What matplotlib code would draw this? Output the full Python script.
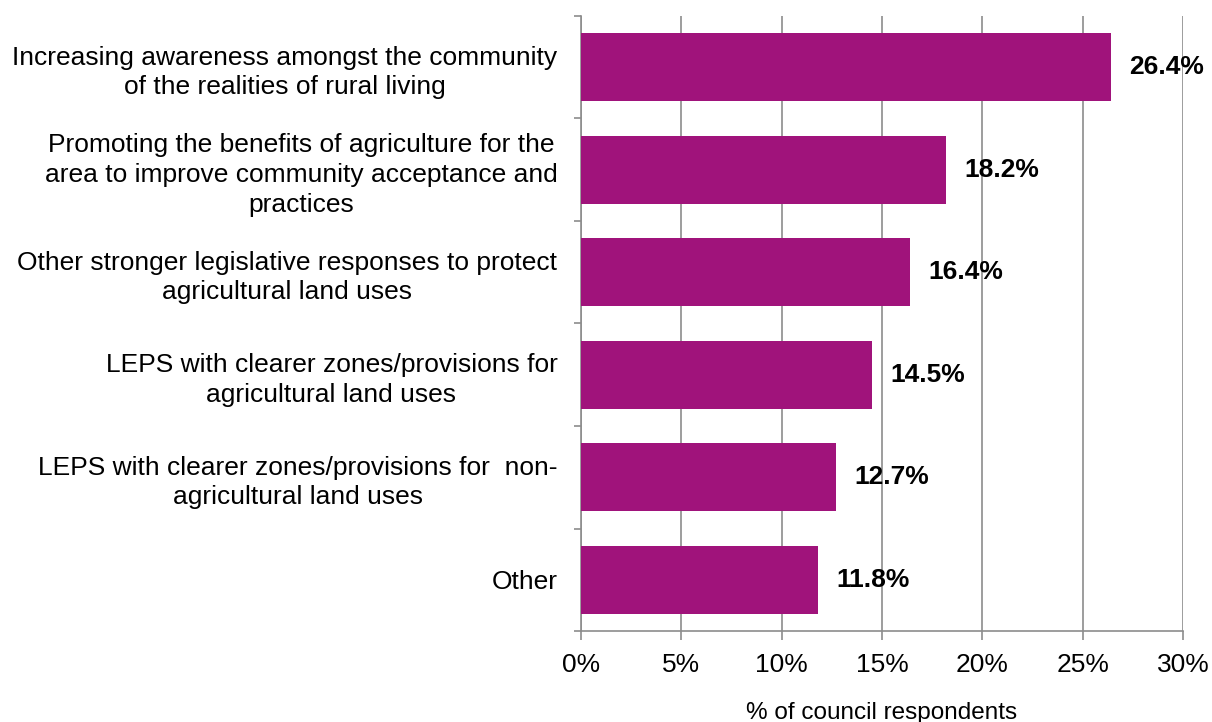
import matplotlib
matplotlib.use("Agg")

import matplotlib.pyplot as plt
import numpy as np

categories = [
    "Increasing awareness amongst the community\nof the realities of rural living",
    "Promoting the benefits of agriculture for the\narea to improve community acceptance and\npractices",
    "Other stronger legislative responses to protect\nagricultural land uses",
    "LEPS with clearer zones/provisions for\nagricultural land uses",
    "LEPS with clearer zones/provisions for  non-\nagricultural land uses",
    "Other",
]
values = [26.4, 18.2, 16.4, 14.5, 12.7, 11.8]
x_ticks = [0, 5, 10, 15, 20, 25, 30]
x_label = "% of council respondents"

bar_color = "#A0137B"
grid_color = "#8C8C8C"

plt.rcParams["font.family"] = ["Liberation Sans", "DejaVu Sans"]

fig = plt.figure(figsize=(12.12, 7.22), dpi=100)
ax = fig.add_axes([0.4794, 0.126, 0.4967, 0.852])

y = np.arange(len(categories))
ax.barh(y, values, height=0.66, color=bar_color, zorder=3)

for yi, v in zip(y, values):
    ax.annotate(f"{v:.1f}%", xy=(v, yi), xytext=(13, 0), textcoords="offset points",
                ha="left", va="center", fontsize=19, fontweight="bold", zorder=4)

ax.set_xlim(0, 30)
ax.set_ylim(len(categories) - 0.5, -0.5)
ax.set_xticks(x_ticks)
ax.set_xticklabels([f"{t}%" for t in x_ticks], fontsize=19)
ax.set_yticks(y)
ax.set_yticklabels(categories, fontsize=19, multialignment="center", linespacing=1.3)
ax.set_yticks(np.arange(len(categories) + 1) - 0.5, minor=True)

ax.tick_params(axis="y", which="major", length=0, pad=17)
ax.tick_params(axis="y", which="minor", length=5, color=grid_color, width=1.2)
ax.tick_params(axis="x", length=6.5, color=grid_color, width=1.2, pad=9)

ax.xaxis.grid(True, color=grid_color, linewidth=1.2, zorder=0)
ax.set_axisbelow(True)

for side in ["top", "right"]:
    ax.spines[side].set_visible(False)
for side in ["left", "bottom"]:
    ax.spines[side].set_color(grid_color)
    ax.spines[side].set_linewidth(1.2)

ax.set_xlabel(x_label, fontsize=17.5, labelpad=18)

fig.savefig("out.png", dpi=100)
plt.close(fig)
